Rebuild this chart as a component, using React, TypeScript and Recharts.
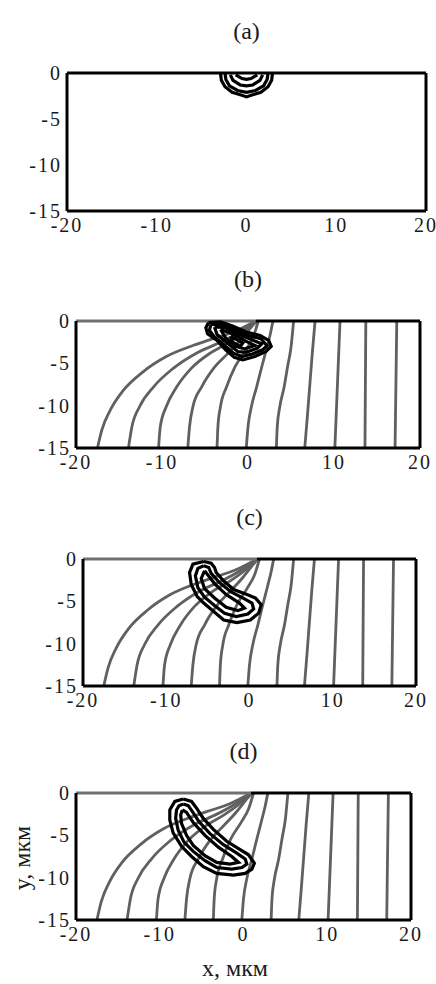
import React from "react";
import { Line, LineChart, XAxis, YAxis } from "recharts";

type Pt = [number, number];

const X_TICKS = [-20, -10, 0, 10, 20];
const Y_TICKS = [0, -5, -10, -15];
const TOP_TICKS_A = [-10, 0, 10];
const TOP_TICKS = [-10, 10];
const RIGHT_TICKS = [-5, -10];

// gray field lines, panels (b)-(d)
const field1: Pt[] = [[-17.5, -15], [-17.0, -12.9], [-16.0, -10.5], [-14.5, -8.2], [-12.2, -6.0], [-9.5, -4.2], [-6.4, -2.9], [-4.4, -2.2], [-1.7, -1.3], [0.9, 0]];
const field2: Pt[] = [[-13.9, -15], [-13.5, -12.5], [-12.6, -10.1], [-11.0, -7.8], [-8.7, -5.6], [-6.0, -3.8], [-3.6, -2.7], [-1.3, -1.5], [0.9, 0]];
const field3: Pt[] = [[-10.4, -15], [-10.2, -12.5], [-9.5, -10.1], [-8.3, -7.8], [-6.6, -5.6], [-4.4, -3.8], [-2.5, -2.7], [-0.5, -1.3], [0.9, 0]];
const field4: Pt[] = [[-7.0, -15], [-6.8, -12.5], [-6.4, -10.1], [-5.4, -7.8], [-4.0, -5.6], [-2.5, -4.0], [-0.9, -2.3], [0.4, -0.7], [1.0, 0]];
const field5: Pt[] = [[-3.6, -15], [-3.5, -12.5], [-3.2, -10.1], [-2.5, -7.8], [-1.5, -5.4], [-0.3, -3.5], [0.6, -1.9], [1.2, 0]];
const field6: Pt[] = [[-0.2, -15], [0.0, -12.5], [0.4, -10.1], [1.0, -7.8], [1.6, -5.4], [2.2, -3.1], [2.6, -1.5], [2.9, 0]];
const field7: Pt[] = [[3.3, -15], [3.4, -12.5], [3.7, -10.1], [4.2, -7.8], [4.6, -5.4], [5.0, -3.1], [5.3, 0]];
const field8: Pt[] = [[6.6, -15], [6.9, -11.3], [7.2, -7.4], [7.5, -3.5], [7.8, 0]];
const field9: Pt[] = [[10.1, -15], [10.3, -10], [10.5, -5], [10.7, 0]];
const field10: Pt[] = [[13.6, -15], [13.65, -7.5], [13.7, 0]];
const field11: Pt[] = [[17.1, -15], [17.2, -7.5], [17.3, 0]];
const surfaceGray: Pt[] = [[-20, 0], [0.9, 0]];
const surfaceBlack: Pt[] = [[0.9, 0], [20, 0]];

// black contours, panel (a)
const a1: Pt[] = [[-2.9, 0], [-2.8, -0.8], [-2.4, -1.5], [-1.6, -2.1], [-0.6, -2.4], [0, -2.6], [0.6, -2.4], [1.6, -2.1], [2.4, -1.5], [2.8, -0.8], [2.9, 0]];
const a2: Pt[] = [[-2.4, 0], [-2.3, -0.7], [-1.9, -1.4], [-1.0, -1.9], [0, -2.1], [1.0, -1.9], [1.9, -1.4], [2.3, -0.7], [2.4, 0]];
const a3: Pt[] = [[-1.8, -0.2], [-1.5, -0.8], [-0.7, -1.3], [0, -1.4], [0.7, -1.3], [1.5, -0.8], [1.8, -0.2]];
const a4: Pt[] = [[-1.2, -0.2], [-0.5, -0.6], [0, -0.7], [0.5, -0.6], [1.2, -0.2]];

// panel (b)
const b1: Pt[] = [[-4.6, -0.2], [-3.2, -0.1], [-1.8, -0.6], [-0.2, -1.3], [1.4, -1.7], [2.4, -2.3], [2.7, -3.0], [2.1, -3.6], [0.8, -4.2], [-0.6, -4.6], [-1.6, -4.3], [-2.6, -3.4], [-3.6, -2.3], [-4.7, -1.5], [-4.9, -0.8], [-4.6, -0.2]];
const b2: Pt[] = [[-4.3, -0.4], [-3.0, -0.4], [-1.6, -1.0], [0, -1.7], [1.5, -2.1], [2.2, -2.9], [1.7, -3.4], [0.5, -3.9], [-0.7, -4.2], [-1.7, -3.8], [-2.8, -2.8], [-3.9, -1.9], [-4.5, -1.1], [-4.3, -0.4]];
const b3: Pt[] = [[-3.9, -0.7], [-2.6, -0.8], [-1.2, -1.5], [0.4, -2.2], [1.6, -2.7], [1.1, -3.2], [-0.2, -3.7], [-1.2, -3.6], [-2.4, -2.6], [-3.6, -1.6], [-3.9, -0.7]];
const b4: Pt[] = [[-3.2, -1.0], [-1.8, -1.5], [-0.2, -2.4], [0.8, -2.9], [-0.4, -3.3], [-1.4, -3.0], [-2.6, -2.0], [-3.2, -1.0]];
const b5: Pt[] = [[-2.0, -1.8], [-0.6, -2.6], [-0.9, -3.0], [-1.8, -2.5], [-2.0, -1.8]];

// panel (c)
const c1: Pt[] = [[-5.5, -0.3], [-4.6, -0.5], [-4.2, -1.0], [-4.0, -1.6], [-3.1, -2.6], [-1.9, -3.6], [-0.3, -4.2], [0.7, -4.6], [1.4, -5.4], [1.1, -6.4], [0.1, -7.2], [-1.5, -7.5], [-3.1, -7.2], [-4.3, -6.2], [-5.5, -5.2], [-6.3, -4.4], [-7.0, -3.0], [-7.2, -1.6], [-6.8, -0.6], [-5.5, -0.3]];
const c2: Pt[] = [[-5.5, -0.8], [-4.9, -1.0], [-4.6, -1.7], [-3.6, -2.8], [-2.2, -3.9], [-0.6, -4.7], [0.3, -5.2], [0.5, -5.9], [-0.2, -6.5], [-1.6, -6.8], [-3.0, -6.4], [-4.2, -5.5], [-5.4, -4.5], [-6.2, -3.4], [-6.5, -2.0], [-6.2, -1.1], [-5.5, -0.8]];
const c3: Pt[] = [[-5.4, -1.4], [-5.0, -1.9], [-4.2, -2.9], [-2.8, -4.2], [-1.2, -5.2], [-0.6, -5.8], [-1.4, -6.1], [-2.8, -5.7], [-4.2, -4.6], [-5.4, -3.5], [-5.8, -2.3], [-5.4, -1.4]];

// panel (d)
const d1: Pt[] = [[-7.2, -0.7], [-6.2, -1.0], [-5.6, -1.8], [-4.8, -3.0], [-3.6, -4.3], [-2.0, -5.7], [-0.4, -6.7], [0.6, -7.3], [1.3, -8.3], [1.0, -9.0], [0.2, -9.5], [-1.2, -9.7], [-3.2, -9.5], [-4.8, -8.7], [-6.2, -7.5], [-7.4, -6.3], [-8.4, -4.7], [-8.8, -3.2], [-8.8, -2.0], [-8.2, -1.0], [-7.2, -0.7]];
const d2: Pt[] = [[-7.2, -1.3], [-6.6, -1.5], [-6.1, -2.2], [-5.3, -3.4], [-4.0, -4.8], [-2.4, -6.1], [-0.8, -7.1], [0.2, -7.8], [0.4, -8.4], [-0.2, -8.8], [-1.4, -9.0], [-3.2, -8.8], [-4.6, -8.0], [-6.0, -6.9], [-7.1, -5.8], [-7.8, -4.4], [-8.1, -3.0], [-8.0, -2.0], [-7.7, -1.5], [-7.2, -1.3]];
const d3: Pt[] = [[-7.3, -2.0], [-6.8, -2.3], [-6.0, -3.5], [-4.6, -5.0], [-3.0, -6.4], [-1.4, -7.5], [-0.6, -8.2], [-1.6, -8.4], [-3.2, -8.2], [-4.6, -7.4], [-6.0, -6.2], [-6.8, -5.0], [-7.4, -3.6], [-7.5, -2.6], [-7.3, -2.0]];

const FIELD = [field1, field2, field3, field4, field5, field6, field7, field8, field9, field10, field11];

const toRows = (pts: Pt[]) => pts.map(([x, y]) => ({ x, y }));

const FONT = "'Liberation Serif', 'Times New Roman', serif";
const tickStyle = { fontSize: 20, fill: "#1a1a1a", fontFamily: FONT, letterSpacing: 2 };

type Rect = { l: number; t: number; r: number; b: number };

const Y_W = 60;
const M_T = 16;
const M_R = 18;
const X_H = 36;

function Panel({ rect, title, contours, field, topTicks }: { rect: Rect; title: string; contours: Pt[][]; field: boolean; topTicks: number[] }) {
  const w = Y_W + (rect.r - rect.l) + M_R;
  const h = M_T + (rect.b - rect.t) + X_H;
  return (
    <>
      <div style={{ position: "absolute", left: 0, width: rect.l + rect.r, top: rect.t - 56, textAlign: "center", fontFamily: FONT, fontSize: 24, lineHeight: "28px", color: "#1a1a1a" }}>
        {title}
      </div>
      <div style={{ position: "absolute", left: rect.l - Y_W, top: rect.t - M_T }}>
        <LineChart width={w} height={h} margin={{ top: M_T, right: M_R, left: 0, bottom: 0 }}>
          <XAxis dataKey="x" type="number" domain={[-20, 20]} ticks={X_TICKS} interval={0} height={X_H} tick={tickStyle} tickLine={false} tickSize={0} tickMargin={7} axisLine={{ stroke: "#000", strokeWidth: 3 }} />
          <XAxis xAxisId="top" orientation="top" mirror type="number" domain={[-20, 20]} ticks={topTicks} interval={0} tick={false} tickSize={3} tickLine={{ stroke: "#000", strokeWidth: 3 }} axisLine={field ? false : { stroke: "#000", strokeWidth: 3 }} />
          <YAxis dataKey="y" type="number" domain={[-15, 0]} ticks={Y_TICKS} interval={0} width={Y_W} tick={tickStyle} tickLine={false} tickSize={0} tickMargin={5} axisLine={{ stroke: "#000", strokeWidth: 3 }} />
          <YAxis yAxisId="right" orientation="right" mirror type="number" domain={[-15, 0]} ticks={RIGHT_TICKS} interval={0} tick={false} tickSize={3} tickLine={{ stroke: "#000", strokeWidth: 3 }} axisLine={{ stroke: "#000", strokeWidth: 3 }} />
          {field &&
            FIELD.map((pts, i) => (
              <Line key={"f" + i} data={toRows(pts)} dataKey="y" type="monotone" stroke="#606060" strokeWidth={2.8} dot={false} isAnimationActive={false} />
            ))}
          {field && <Line data={toRows(surfaceGray)} dataKey="y" type="linear" stroke="#707070" strokeWidth={3} dot={false} isAnimationActive={false} />}
          {field && <Line data={toRows(surfaceBlack)} dataKey="y" type="linear" stroke="#000" strokeWidth={3} dot={false} isAnimationActive={false} />}
          {contours.map((pts, i) => (
            <Line key={"c" + i} data={toRows(pts)} dataKey="y" type="linear" stroke="#000" strokeWidth={3.2} dot={false} isAnimationActive={false} />
          ))}
        </LineChart>
      </div>
    </>
  );
}

export default function App() {
  return (
    <div style={{ position: "absolute", left: 0, top: 0, width: 436, height: 984, background: "#fff", overflow: "hidden" }}>
      <Panel rect={{ l: 67, t: 73, r: 426, b: 211 }} title="(a)" contours={[a1, a2, a3, a4]} field={false} topTicks={TOP_TICKS_A} />
      <Panel rect={{ l: 76, t: 321, r: 420, b: 448 }} title="(b)" contours={[b1, b2, b3, b4, b5]} field topTicks={TOP_TICKS} />
      <Panel rect={{ l: 83, t: 559, r: 416, b: 686 }} title="(c)" contours={[c1, c2, c3]} field topTicks={TOP_TICKS} />
      <Panel rect={{ l: 76, t: 793, r: 411, b: 920 }} title="(d)" contours={[d1, d2, d3]} field topTicks={TOP_TICKS} />
      <div style={{ position: "absolute", left: 0, width: 470, top: 954, textAlign: "center", fontFamily: FONT, fontSize: 24, lineHeight: "28px", color: "#1a1a1a" }}>
        x, мкм
      </div>
      <div style={{ position: "absolute", left: 22, top: 858, width: 0, height: 0 }}>
        <div style={{ position: "absolute", left: -60, top: -14, width: 120, textAlign: "center", transform: "rotate(-90deg)", fontFamily: FONT, fontSize: 24, lineHeight: "28px", color: "#1a1a1a", whiteSpace: "nowrap" }}>
          y, мкм
        </div>
      </div>
    </div>
  );
}
